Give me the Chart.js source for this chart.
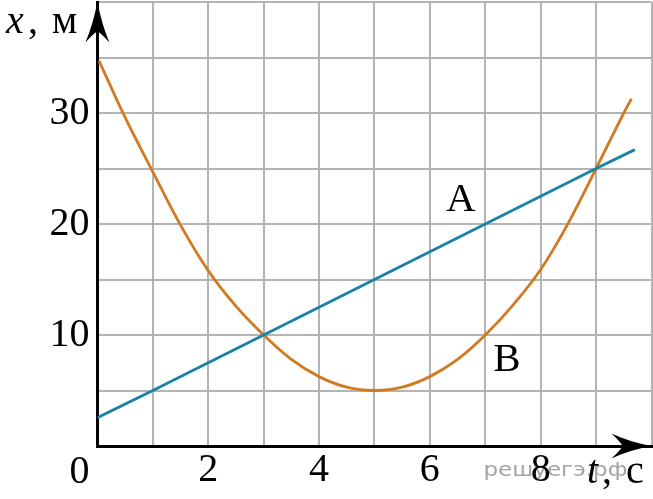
<!DOCTYPE html>
<html>
<head>
<meta charset="utf-8">
<script src="https://cdn.jsdelivr.net/npm/chart.js@4.4.1/dist/chart.umd.min.js"></script>
<style>
  html, body { margin: 0; padding: 0; background: #fff; }
  #wrap { width: 653px; height: 499px; }
  canvas { background: #fff; }
</style>
</head>
<body>
<div id="wrap"><canvas id="chart"></canvas></div>
<script>
// Body A: straight line
const timeA = [0, 1, 3, 7, 9, 9.7];
const coordA = [2.55, 5, 10, 20, 25, 26.7];

// Body B: curve with its minimum at t = 5 s
const timeB = [0.03, 0.5, 1, 1.5, 2, 2.5, 3, 3.5, 4, 4.5, 5, 5.5, 6, 6.5, 7, 7.5, 8, 8.5, 9, 9.5, 9.64];
const coordB = [34.7, 29.6, 24.7, 19.9, 15.8, 12.6, 10, 7.8, 6.25, 5.3, 5, 5.3, 6.25, 7.8, 10, 12.7, 15.9, 20.1, 25, 30, 31.3];

// Tick labels shown on the axes
const xTickLabels = [2, 4, 6, 8];
const yTickLabels = [10, 20, 30];

const serif = "'Liberation Serif', 'Times New Roman', serif";
const gridColor = "#b4b4b4";
const fontSize = 40;

const toPoints = (xs, ys) => xs.map((x, i) => ({ x, y: ys[i] }));

// Arrowheads, axis captions, curve names and the origin label
const decorations = {
  id: "decorations",
  beforeDraw(chart) {
    const { ctx, chartArea } = chart;
    const text = "решуегэ.рф";
    ctx.save();
    ctx.font = "19px 'DejaVu Sans', sans-serif";
    ctx.fillStyle = "#a4a4a4";
    ctx.textBaseline = "alphabetic";
    const w = ctx.measureText(text).width;
    ctx.translate(chartArea.left + 386, chartArea.bottom + 30);
    ctx.scale(144 / w, 1);
    ctx.fillText(text, 0, 0);
    ctx.restore();
  },
  afterDraw(chart) {
    const { ctx, chartArea, scales } = chart;
    const x0 = chartArea.left;
    const y0 = chartArea.bottom;
    ctx.save();
    ctx.fillStyle = "#000";

    // y arrow
    const tipY = chartArea.top - 0.5;
    ctx.beginPath();
    ctx.moveTo(x0, tipY);
    ctx.quadraticCurveTo(x0 + 4, tipY + 22, x0 + 12, tipY + 41);
    ctx.quadraticCurveTo(x0 + 3, tipY + 31, x0, tipY + 30);
    ctx.quadraticCurveTo(x0 - 3, tipY + 31, x0 - 12, tipY + 41);
    ctx.quadraticCurveTo(x0 - 4, tipY + 22, x0, tipY);
    ctx.fill();

    // x arrow
    const tipX = chartArea.right;
    ctx.beginPath();
    ctx.moveTo(tipX, y0);
    ctx.quadraticCurveTo(tipX - 22, y0 - 4, tipX - 40, y0 - 12.5);
    ctx.quadraticCurveTo(tipX - 30, y0 - 3, tipX - 29, y0);
    ctx.quadraticCurveTo(tipX - 30, y0 + 3, tipX - 40, y0 + 12.5);
    ctx.quadraticCurveTo(tipX - 22, y0 + 4, tipX, y0);
    ctx.fill();

    ctx.textBaseline = "alphabetic";
    ctx.textAlign = "left";
    const upright = fontSize + "px " + serif;
    const italic = "italic " + fontSize + "px " + serif;

    // axis captions
    ctx.font = italic;
    ctx.fillText("x", 6, 33);
    ctx.font = upright;
    ctx.fillText(",", 28, 33);
    ctx.fillText("м", 52, 33);

    ctx.font = italic;
    ctx.fillText("t", 587, y0 + 37);
    ctx.font = upright;
    ctx.fillText(",", 602, y0 + 37);
    ctx.fillText("с", 626, y0 + 37);

    // origin
    ctx.textAlign = "center";
    ctx.fillText("0", x0 - 18, y0 + 37);

    // curve names
    ctx.font = "41px " + serif;
    ctx.textBaseline = "middle";
    ctx.fillText("A", scales.x.getPixelForValue(6.56), scales.y.getPixelForValue(22.1));
    ctx.fillText("B", scales.x.getPixelForValue(7.39), scales.y.getPixelForValue(7.7));
    ctx.restore();
  },
};

new Chart(document.getElementById("chart"), {
  type: "line",
  data: {
    datasets: [
      {
        label: "A",
        data: toPoints(timeA, coordA),
        borderColor: "#1784a6",
        borderWidth: 2.8,
        pointRadius: 0,
        tension: 0,
      },
      {
        label: "B",
        data: toPoints(timeB, coordB),
        borderColor: "#d27a22",
        borderWidth: 2.8,
        pointRadius: 0,
        tension: 0.4,
      },
    ],
  },
  options: {
    responsive: true,
    maintainAspectRatio: false,
    animation: false,
    layout: { padding: { top: 2, right: 1.5, left: 0, bottom: 0 } },
    plugins: { legend: { display: false }, tooltip: { enabled: false } },
    scales: {
      x: {
        type: "linear",
        min: 0,
        max: 10,
        afterFit: (scale) => {
          scale.height = 53;
          scale.paddingLeft = 0;
          scale.paddingRight = 0;
        },
        grid: { color: gridColor, lineWidth: 2, drawTicks: false },
        border: { color: "#000", width: 3 },
        ticks: {
          stepSize: 1,
          padding: 0,
          color: "#000",
          font: { family: serif, size: fontSize },
          maxRotation: 0,
          autoSkip: false,
          callback: (v) => (xTickLabels.includes(v) ? String(v) : ""),
        },
      },
      y: {
        min: 0,
        max: 40,
        afterFit: (scale) => {
          scale.width = 97.4;
          scale.paddingTop = 0;
          scale.paddingBottom = 0;
        },
        grid: { color: gridColor, lineWidth: 2, drawTicks: false },
        border: { color: "#000", width: 3 },
        ticks: {
          stepSize: 5,
          padding: 8,
          color: "#000",
          font: { family: serif, size: fontSize },
          autoSkip: false,
          callback: (v) => (yTickLabels.includes(v) ? String(v) : ""),
        },
      },
    },
  },
  plugins: [decorations],
});
</script>
</body>
</html>
